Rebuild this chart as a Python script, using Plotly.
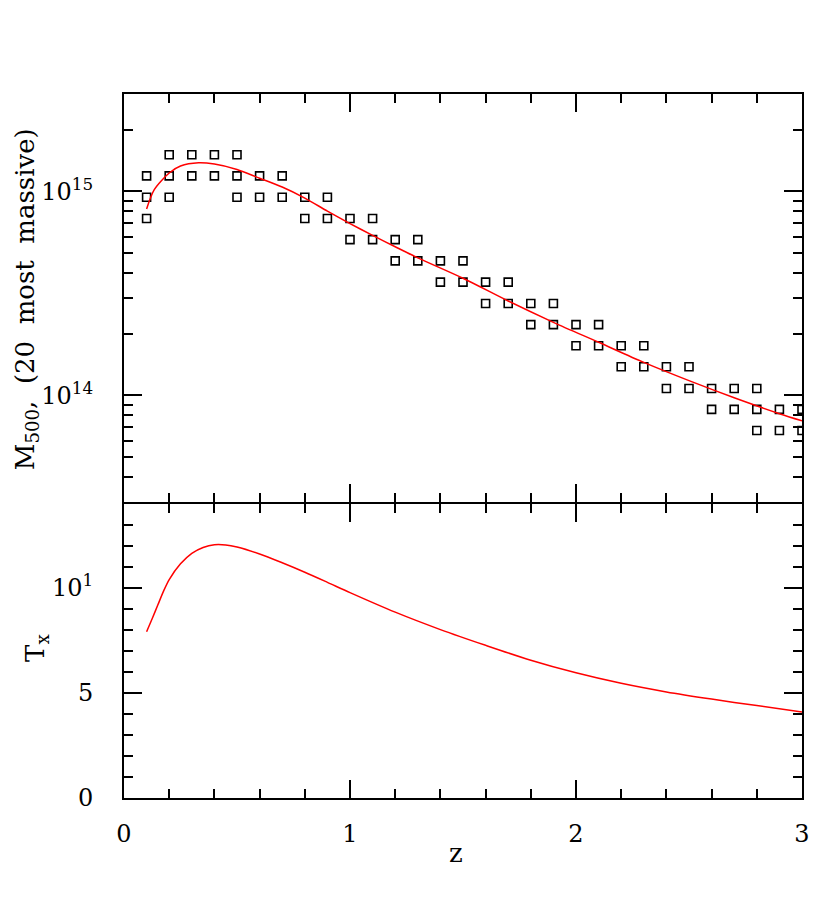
import plotly.graph_objects as go

# ---- data ----
z_sq = [0.1, 0.1, 0.1, 0.2, 0.2, 0.2, 0.3, 0.3, 0.4, 0.4, 0.5, 0.5, 0.5,
        0.6, 0.6, 0.7, 0.7, 0.8, 0.8, 0.9, 0.9, 1.0, 1.0, 1.1, 1.1,
        1.2, 1.2, 1.3, 1.3, 1.4, 1.4, 1.5, 1.5, 1.6, 1.6, 1.7, 1.7,
        1.8, 1.8, 1.9, 1.9, 2.0, 2.0, 2.1, 2.1, 2.2, 2.2, 2.3, 2.3,
        2.4, 2.4, 2.5, 2.5, 2.6, 2.6, 2.7, 2.7, 2.8, 2.8, 2.8,
        2.9, 2.9, 3.0, 3.0]
m_sq = [1.19e15, 9.35e14, 7.36e14, 1.51e15, 1.19e15, 9.35e14,
        1.51e15, 1.19e15, 1.51e15, 1.19e15, 1.51e15, 1.19e15, 9.35e14,
        1.19e15, 9.35e14, 1.19e15, 9.35e14, 9.35e14, 7.36e14, 9.35e14, 7.36e14,
        7.36e14, 5.80e14, 7.36e14, 5.80e14, 5.80e14, 4.56e14, 5.80e14, 4.56e14,
        4.56e14, 3.59e14, 4.56e14, 3.59e14, 3.59e14, 2.82e14, 3.59e14, 2.82e14,
        2.82e14, 2.22e14, 2.82e14, 2.22e14, 2.22e14, 1.75e14, 2.22e14, 1.75e14,
        1.75e14, 1.38e14, 1.75e14, 1.38e14, 1.38e14, 1.08e14, 1.38e14, 1.08e14,
        1.08e14, 8.53e13, 1.08e14, 8.53e13, 1.08e14, 8.53e13, 6.72e13,
        8.53e13, 6.72e13, 8.53e13, 6.72e13]

z_m = [0.1, 0.134, 0.2, 0.25, 0.33, 0.4, 0.5, 0.6, 0.7, 0.8, 0.9, 1.0, 1.1,
       1.2, 1.3, 1.5, 1.7, 1.9, 2.1, 2.3, 2.5, 2.7, 2.9, 3.0]
m_curve = [8.20e14, 1.02e15, 1.23e15, 1.33e15, 1.38e15, 1.36e15, 1.28e15,
           1.16e15, 1.05e15, 9.27e14, 8.00e14, 6.95e14, 6.08e14, 5.35e14,
           4.72e14, 3.75e14, 2.90e14, 2.28e14, 1.82e14, 1.45e14, 1.18e14,
           9.73e13, 8.13e13, 7.50e13]

z_t = [0.1, 0.125, 0.15, 0.175, 0.2, 0.25, 0.3, 0.35, 0.4, 0.45, 0.5, 0.6,
       0.7, 0.8, 0.9, 1.0, 1.2, 1.4, 1.6, 1.8, 2.0, 2.2, 2.4, 2.6, 2.8, 3.0]
t_curve = [7.92, 8.55, 9.2, 9.85, 10.4, 11.15, 11.65, 11.93, 12.06, 12.05,
           11.95, 11.62, 11.2, 10.75, 10.27, 9.78, 8.85, 8.02, 7.27, 6.56,
           5.96, 5.46, 5.05, 4.71, 4.40, 4.10]

m_tickvals = [1e14, 1e15]
m_ticktext = ["10<sup>14</sup>", "10<sup>15</sup>"]
m_minor = [4e13, 5e13, 6e13, 7e13, 8e13, 9e13,
           2e14, 3e14, 4e14, 5e14, 6e14, 7e14, 8e14, 9e14, 2e15, 3e15]
t_tickvals = [0, 5, 10]
t_ticktext = ["0", "5", "10<sup>1</sup>"]

FONT = "DejaVu Serif"
FS = 24
FS_T = 26

fig = go.Figure()
fig.add_trace(go.Scatter(x=z_sq, y=m_sq, mode="markers", xaxis="x2", yaxis="y2",
                         marker=dict(symbol="square-open", size=8, color="black",
                                     line=dict(width=1.6, color="black")),
                         showlegend=False, cliponaxis=True))
fig.add_trace(go.Scatter(x=z_m, y=m_curve, mode="lines", xaxis="x2", yaxis="y2",
                         line=dict(color="red", width=1.5, shape="spline", smoothing=0.8),
                         showlegend=False))
fig.add_trace(go.Scatter(x=z_t, y=t_curve, mode="lines", xaxis="x", yaxis="y",
                         line=dict(color="red", width=1.5, shape="spline", smoothing=0.8),
                         showlegend=False))

H = 704
split = 294 / H
common = dict(showline=True, linecolor="black", linewidth=2, mirror="allticks",
              ticks="inside", ticklen=18, tickwidth=1.5, tickcolor="black",
              showgrid=False, zeroline=False,
              tickfont=dict(family=FONT, size=FS, color="black"))
minor_common = dict(ticklen=9, tickwidth=1.5, tickcolor="black", ticks="inside")

fig.update_layout(
    width=830, height=911,
    margin=dict(l=116, r=36, t=86, b=121),
    paper_bgcolor="white", plot_bgcolor="white",
    font=dict(family=FONT, size=FS, color="black"),
    xaxis=dict(range=[0, 3], tickvals=[0, 1, 2, 3], ticktext=["0", "1", "2", "3"],
               minor=dict(dtick=0.2, tick0=0, **minor_common),
               anchor="y", ticklabelstandoff=13, **common),
    xaxis2=dict(range=[0, 3], tickvals=[0, 1, 2, 3], showticklabels=False,
                minor=dict(dtick=0.2, tick0=0, **minor_common),
                anchor="y2", matches="x", **common),
    yaxis=dict(domain=[0, split], range=[0, 14], tickvals=t_tickvals,
               ticktext=t_ticktext,
               minor=dict(dtick=1, tick0=0, **minor_common),
               anchor="x", ticklabelstandoff=24, **common),
    yaxis2=dict(domain=[split + 2 / H, 1], type="log", range=[13.4771, 15.4771],
                tickvals=m_tickvals, ticktext=m_ticktext,
                minor=dict(tickmode="array", tickvals=m_minor, **minor_common),
                anchor="x2", ticklabelstandoff=24, **common),
    annotations=[
        dict(text="M<sub>500</sub>,  (20  most  massive)", xref="paper", yref="paper",
             x=-0.144, y=0.709, xanchor="center", yanchor="middle",
             textangle=-90, showarrow=False, font=dict(family=FONT, size=FS_T)),
        dict(text="T<sub>x</sub>", xref="paper", yref="paper",
             x=-0.13, y=0.213, xanchor="center", yanchor="middle",
             textangle=-90, showarrow=False, font=dict(family=FONT, size=FS_T)),
        dict(text="z", xref="paper", yref="paper",
             x=0.49, y=-0.078, xanchor="center", yanchor="middle",
             showarrow=False, font=dict(family=FONT, size=FS_T)),
    ],
)

fig.write_html("out.html")
